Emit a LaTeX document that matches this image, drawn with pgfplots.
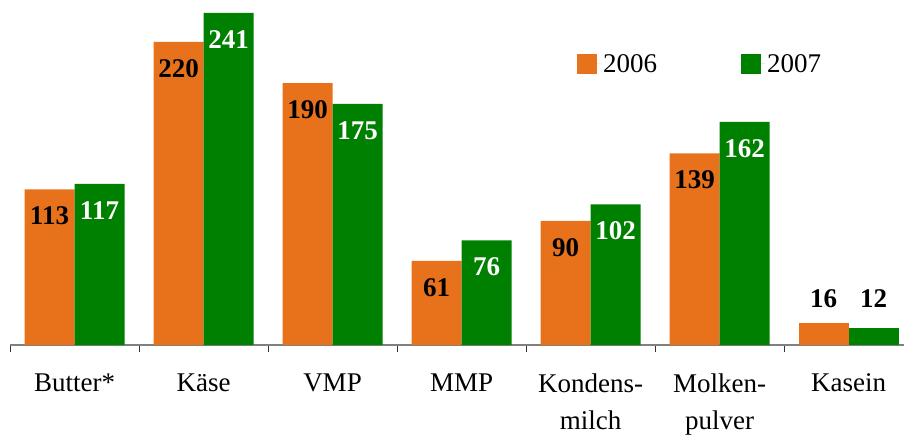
\documentclass[border=0pt]{standalone}
\usepackage{fontspec}
\setmainfont{Liberation Serif}
\usepackage{pgfplots}
\pgfplotsset{compat=1.18}
\definecolor{orangebar}{RGB}{232,113,28}
\definecolor{greenbar}{RGB}{0,128,0}
\begin{document}
\begin{tikzpicture}
\begin{axis}[
    at={(10pt,89pt)}, anchor=south west,
    scale only axis, width=894pt, height=344.5pt,
    xmin=-0.5, xmax=6.43, ymin=0, ymax=250,
    axis x line*=bottom, axis y line=none,
    x axis line style={draw=gray, line width=1.5pt, -},
    xtick={0,...,6}, major tick length=0pt,
    minor xtick={-0.5,0.5,...,5.5}, minor tick length=7pt,
    tick align=outside,
    minor tick style={black!80, line width=0.8pt},
    xticklabels={Butter*, Käse, VMP, MMP, Kondens-\\milch, Molken-\\pulver, Kasein},
    xticklabel style={align=center, font=\fontsize{27}{37}\selectfont, yshift=-25pt},
    bar width=50pt,
    /pgf/number format/assume math mode=true,
    legend columns=2,
    legend cell align=left,
    legend image code/.code={\fill[#1] (0pt,-10pt) rectangle (20pt,10pt);
        \path (20pt,0pt) -- (24pt,0pt);},
    legend style={draw=none, fill=none, at={(0.634,0.8157)}, anchor=west,
        font=\fontsize{27}{27}\selectfont, inner sep=0pt,
        /tikz/every even column/.append style={column sep=82pt}},
]
% 2006 and 2007, labels inside the bars
\addplot[ybar, bar shift=-25pt, fill=orangebar, draw=none,
    nodes near coords,
    every node near coord/.append style={anchor=center, xshift=-25pt, yshift=-26.5pt,
        text=black, font=\fontsize{27}{27}\selectfont\bfseries}]
    coordinates {(0,113) (1,220) (2,190) (3,61) (4,90) (5,139)};
\addplot[ybar, bar shift=25pt, fill=greenbar, draw=none,
    nodes near coords,
    every node near coord/.append style={anchor=center, xshift=25pt, yshift=-26.5pt,
        text=white, font=\fontsize{27}{27}\selectfont\bfseries}]
    coordinates {(0,117) (1,241) (2,175) (3,76) (4,102) (5,162)};
% Kasein, labels above the bars
\addplot[ybar, bar shift=-25pt, fill=orangebar, draw=none, forget plot,
    nodes near coords,
    every node near coord/.append style={anchor=center, xshift=-25pt, yshift=24.5pt,
        text=black, font=\fontsize{27}{27}\selectfont\bfseries}]
    coordinates {(6,16)};
\addplot[ybar, bar shift=25pt, fill=greenbar, draw=none, forget plot,
    nodes near coords,
    every node near coord/.append style={anchor=center, xshift=25pt, yshift=30pt,
        text=black, font=\fontsize{27}{27}\selectfont\bfseries}]
    coordinates {(6,12)};
\legend{2006, 2007}
\end{axis}
\pgfresetboundingbox
\useasboundingbox (0,0) rectangle (904pt,434pt);
\end{tikzpicture}
\end{document}
